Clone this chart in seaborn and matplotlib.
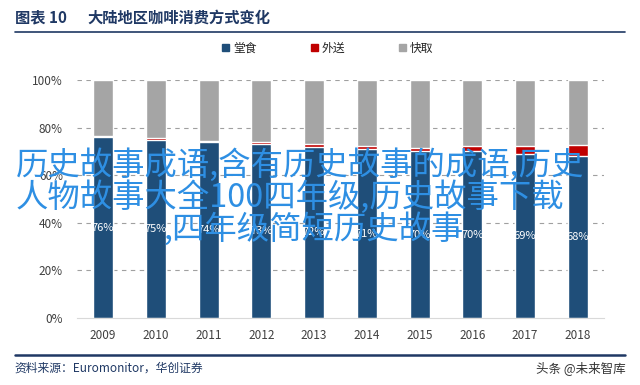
import pandas as pd
import matplotlib
matplotlib.use('Agg')
import matplotlib.pyplot as plt
import seaborn as sns
from matplotlib.patches import Patch
from matplotlib.lines import Line2D

years = ['2009', '2010', '2011', '2012', '2013', '2014', '2015', '2016', '2017', '2018']
dine_in = [76, 75, 74, 73, 72, 71, 70, 70, 69, 68]        # 堂食
delivery = [0.4, 0.5, 0.6, 0.8, 1.0, 1.3, 1.6, 2.4, 3.4, 4.8]  # 外送
takeaway = [100 - a - b for a, b in zip(dine_in, delivery)]  # 快取
y_ticks = [0, 20, 40, 60, 80, 100]
series_names = ['堂食', '外送', '快取']

c_blue = '#1F4E79'
c_red = '#C00000'
c_gray = '#A5A5A5'

df = pd.DataFrame({'year': years, 'dine': dine_in, 'deliv': delivery, 'take': takeaway})
df['top2'] = df['dine'] + df['deliv']
df['top3'] = df['top2'] + df['take']

sns.set_style('white')
plt.rcParams['font.family'] = ['Noto Sans CJK SC', 'DejaVu Sans']

fig = plt.figure(figsize=(6.4, 3.85), dpi=100)
ax = fig.add_axes([0.120, 0.174, 0.824, 0.618])

# layered bars -> stacked look
sns.barplot(data=df, x='year', y='top3', color=c_gray, width=0.38, ax=ax, saturation=1)
sns.barplot(data=df, x='year', y='top2', color=c_red, width=0.38, ax=ax, saturation=1)
sns.barplot(data=df, x='year', y='dine', color=c_blue, width=0.38, ax=ax, saturation=1)

for i, v in enumerate(dine_in):
    ax.text(i, v / 2, f'{v:.0f}%', ha='center', va='center', color='white', fontsize=8)

ax.set_ylim(0, 100)
ax.set_xlim(-0.5, 9.5)
ax.set_yticks(y_ticks)
ax.set_yticklabels([f'{t}%' for t in y_ticks], fontsize=8.5, color='#404040')
ax.tick_params(axis='x', labelsize=8.5, labelcolor='#404040', length=0, pad=8)
ax.tick_params(axis='y', length=0, pad=10)
ax.set_xlabel('')
ax.set_ylabel('')
for t in y_ticks[1:]:
    ax.axhline(t, color='#A0A0A0', lw=0.8, ls=(0, (4, 4)), zorder=0)
for s in ['top', 'right', 'left']:
    ax.spines[s].set_visible(False)
ax.spines['bottom'].set_color('#D9D9D9')
ax.set_axisbelow(True)

handles = [Patch(facecolor=c, edgecolor=c) for c in [c_blue, c_red, c_gray]]
fig.legend(handles, series_names, loc='center', bbox_to_anchor=(0.512, 0.875), ncol=3,
           frameon=False, fontsize=8.5, handlelength=0.6, handleheight=0.6,
           handletextpad=0.3, columnspacing=4.6)

# header & footer
navy = '#1F3864'
fig.text(0.023, 0.955, '图表 10', fontsize=11, fontweight='bold', color=navy, va='center')
fig.text(0.137, 0.955, '大陆地区咖啡消费方式变化', fontsize=11, fontweight='bold', color=navy, va='center')
fig.add_artist(Line2D([0.023, 0.977], [0.918, 0.918], color=navy, lw=1.2))
fig.add_artist(Line2D([0.023, 0.977], [0.078, 0.078], color=navy, lw=1.8))
fig.text(0.023, 0.044, '资料来源：Euromonitor，华创证券', fontsize=8.5, style='italic',
         color=navy, va='center')
fig.text(0.977, 0.044, '头条 @未来智库', fontsize=9, color='#333333', va='center', ha='right')

# overlaid caption text
blue_txt = '#2E8FE3'
fig.text(0.024, 0.572, '历史故事成语,含有历史故事的成语,历史', fontsize=23.3,
         fontweight='medium', color=blue_txt, va='center')
fig.text(0.024, 0.487, '人物故事大全100四年级,历史故事下载', fontsize=23.3,
         fontweight='medium', color=blue_txt, va='center')
fig.text(0.256, 0.405, ',四年级简短历史故事', fontsize=23.3,
         fontweight='medium', color=blue_txt, va='center')

fig.savefig('out.png', dpi=100)
